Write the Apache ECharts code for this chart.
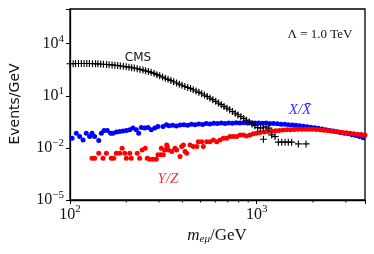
<!DOCTYPE html>
<html><head><meta charset="utf-8">
<script src="https://cdn.jsdelivr.net/npm/echarts@6/dist/echarts.min.js"></script>
<style>html,body{margin:0;padding:0;background:#fff}#c{width:374px;height:254px}</style>
</head><body><div id="c"></div>
<script>
// CMS data (black pluses)
const cmsX = [100,104,107,111,115,119,123,127,132,137,141,146,151,157,162,168,174,180,186,193,200,207,214,221,229,237,246,254,263,272,282,292,302,313,324,335,347,359,372,385,398,412,427,442,457,473,490,507,525,543,562,582,603,624,646,668,692,716,741,767,794,822,851,881,912,944,977,1012,1047,1084,1122,1161,
  1086,1202,1253,1306,1361,1419,1476,1538,1671,1837];
const cmsY = [708,708,724,724,724,724,724,724,708,708,692,676,661,631,617,603,575,562,525,501,468,447,417,398,363,331,302,275,251,224,195,166,141,120,102,89.1,75.9,64.6,55.0,46.8,40.7,34.7,30.2,26.3,22.4,19.1,15.8,13.2,11.0,9.12,7.41,6.03,4.79,3.80,3.09,2.45,1.95,1.58,1.26,1.00,0.794,0.631,0.501,0.398,0.309,0.240,0.191,0.148,0.138,0.145,0.166,0.138,
  0.0316,0.0562,0.0447,0.0214,0.0214,0.0214,0.0214,0.0214,0.0170,0.0170];

// X / Xbar (blue dots)
const xxbarX = [102.6,108.1,112.7,117.5,122.2,127.4,131.2,135.5,142.6,147.2,152.1,158.5,165.2,169.8,177.0,184.5,192.3,200.4,208.9,217.3,226.5,233.3,241.0,251.2,261.8,272.3,284.4,295.8,314.8,328.1,
  338.8,354.8,371.5,389.0,407.4,426.6,446.7,467.7,489.8,512.9,537.0,562.3,588.8,616.6,645.7,676.1,707.9,741.3,776.2,812.8,851.1,891.3,933.3,977.2,1023,1072,1122,1175,1230,1288,1349,1413,1479,1549,1622,1698,1778,1862,1950,2042,2138,2239,2344,2455,2570,2692,2818,2951,3090,3236,3388,3548,3715];
const xxbarY = [0.0363,0.0708,0.0447,0.0288,0.0708,0.0447,0.0708,0.0447,0.0263,0.0708,0.100,0.100,0.0708,0.0708,0.0813,0.0871,0.0955,0.100,0.110,0.138,0.110,0.0708,0.148,0.138,0.148,0.110,0.138,0.170,0.170,0.214,
  0.191,0.200,0.182,0.209,0.219,0.200,0.229,0.219,0.240,0.224,0.251,0.240,0.263,0.251,0.269,0.257,0.275,0.263,0.282,0.269,0.282,0.275,0.282,0.269,0.275,0.263,0.269,0.257,0.251,0.245,0.234,0.229,0.219,0.209,0.200,0.191,0.178,0.166,0.155,0.145,0.135,0.123,0.112,0.102,0.0933,0.0851,0.0776,0.0708,0.0646,0.0575,0.0513,0.0447,0.0380];

// Y / Z (red dots)
const yzX = [131.2,135.5,142.6,150.3,156.7,166.3,171.4,177.0,184.5,190.1,196.3,200.4,208.9,212.8,229.1,236.0,243.2,252.9,259.4,267.3,278.6,289.7,295.8,306.2,308.3,316.2,321.4,329.6,331.9,336.5,350.8,364.8,372.4,388.2,396.3,404.6,413.0,421.7,439.5,457.1,477.5,486.4,507.0,517.6,539.5,562.3,586.1,610.9,635.3,662.2,690.2,719.5,749.9,781.6,814.7,847.2,883.0,920.4,959.4,1000,1042,
  1096,1148,1202,1259,1318,1380,1445,1514,1585,1660,1738,1820,1905,1995,2089,2188,2291,2399,2512,2630,2754,2884,3020,3162,3311,3467,3631,3802];
const yzY = [0.00251,0.00251,0.00490,0.00251,0.00490,0.00251,0.00251,0.00490,0.00490,0.00955,0.00490,0.00251,0.00490,0.00251,0.00490,0.00251,0.00759,0.00955,0.00251,0.00224,0.00224,0.00224,0.00398,0.00398,0.00955,0.00398,0.00759,0.0148,0.0120,0.00759,0.00617,0.00955,0.00759,0.00316,0.0120,0.0148,0.00617,0.00490,0.0148,0.0120,0.0120,0.0229,0.0229,0.0120,0.0229,0.0229,0.0288,0.0229,0.0288,0.0363,0.0363,0.0447,0.0447,0.0447,0.0562,0.0562,0.0490,0.0562,0.0646,0.0708,0.0759,
  0.0832,0.0871,0.0912,0.0977,0.102,0.107,0.110,0.112,0.115,0.117,0.117,0.120,0.120,0.117,0.115,0.110,0.105,0.100,0.0933,0.0871,0.0832,0.0776,0.0741,0.0692,0.0661,0.0617,0.0589,0.0562];

const xTickExps = [2, 3];
const yTickExps = [-5, -2, 1, 4];
const xMinorTicks = [200,300,400,500,600,700,800,900,2000,3000];
const xMin = 100, xMax = 3800, yMin = 1e-5, yMax = 1e6;

function zip(a, b) { return a.map((v, i) => [v, b[i]]); }
function expLabel(exps) {
  return function (v) {
    const l = Math.log10(v), e = Math.round(l);
    if (Math.abs(l - e) > 1e-6 || exps.indexOf(e) < 0) return '';
    return '{b|10}{s|' + (e < 0 ? '\u2212' + (-e) : e) + '}';
  };
}
const serif = 'Liberation Serif';
const rich = {
  b: { fontFamily: serif, fontSize: 16, color: '#111' },
  s: { fontFamily: serif, fontSize: 11, color: '#111', padding: [0, 0, 10, 0] }
};

const chart = echarts.init(document.getElementById('c'));
chart.setOption({
  animation: false,
  grid: { left: 70, top: 9, right: 9, bottom: 54, show: true, borderColor: '#000', borderWidth: 1.3, backgroundColor: 'transparent' },
  xAxis: {
    type: 'log', logBase: 10, min: xMin, max: xMax, interval: 1,
    axisLine: { show: true, lineStyle: { color: '#000', width: 1.3 } },
    axisTick: { show: true, length: 4, lineStyle: { color: '#000' } },
    splitLine: { show: false },
    axisLabel: { formatter: expLabel(xTickExps), rich: rich, margin: 4, showMaxLabel: true }
  },
  yAxis: {
    type: 'log', logBase: 10, min: yMin, max: yMax, interval: 3,
    axisLine: { show: true, lineStyle: { color: '#000', width: 1.3 } },
    axisTick: { show: true, length: 4, lineStyle: { color: '#000' } },
    splitLine: { show: false },
    axisLabel: { formatter: expLabel(yTickExps), rich: rich, margin: 6 }
  },
  series: [
    { type: 'custom', clip: false, silent: true, data: xMinorTicks.map(v => [v, yMin]),
      renderItem: function (params, api) {
        const p = api.coord([api.value(0), api.value(1)]);
        return { type: 'line', shape: { x1: p[0], y1: p[1], x2: p[0], y2: p[1] + 2.5 }, style: { stroke: '#000', lineWidth: 1 } };
      } },
    { type: 'scatter', data: zip(xxbarX, xxbarY), symbol: 'circle', symbolSize: 5, itemStyle: { color: '#0000ff', opacity: 1 } },
    { type: 'scatter', data: zip(yzX, yzY), symbol: 'circle', symbolSize: 5, itemStyle: { color: '#ff0000', opacity: 1 } },
    { type: 'scatter', data: zip(cmsX, cmsY), symbol: 'path://M0,4.2H10V5.8H0Z M4.2,0H5.8V10H4.2Z', symbolSize: 7, itemStyle: { color: '#000', opacity: 1 } }
  ],
  graphic: [
    { type: 'text', x: 15, y: 104, rotation: Math.PI / 2, style: { text: 'Events/GeV', font: '14px "DejaVu Sans"', fill: '#111', textAlign: 'center', textVerticalAlign: 'middle' } },
    { type: 'text', x: 217, y: 236, style: { text: '{i|m}{sub|eμ}{r|/GeV}', textAlign: 'center', textVerticalAlign: 'middle',
      rich: { i: { fontFamily: serif, fontStyle: 'italic', fontSize: 17, fill: '#111' },
              sub: { fontFamily: serif, fontStyle: 'italic', fontSize: 11, fill: '#111', padding: [7, 0, 0, 0] },
              r: { fontFamily: serif, fontSize: 17, fill: '#111' } } } },
    { type: 'text', x: 138, y: 58, style: { text: 'CMS', font: '12px "DejaVu Sans"', fill: '#111', textAlign: 'center', textVerticalAlign: 'middle' } },
    { type: 'text', x: 320, y: 35, style: { text: 'Λ = 1.0 TeV', font: '13px "Liberation Serif"', fill: '#111', textAlign: 'center', textVerticalAlign: 'middle' } },
    { type: 'text', x: 300, y: 110, style: { text: 'X/X\u0304', font: 'italic 15px "Liberation Serif"', fill: '#3333ff', textAlign: 'center', textVerticalAlign: 'middle' } },
    { type: 'text', x: 168, y: 179, style: { text: 'Y/Z', font: 'italic 15px "Liberation Serif"', fill: '#ff3333', textAlign: 'center', textVerticalAlign: 'middle' } }
  ]
});
</script></body></html>
